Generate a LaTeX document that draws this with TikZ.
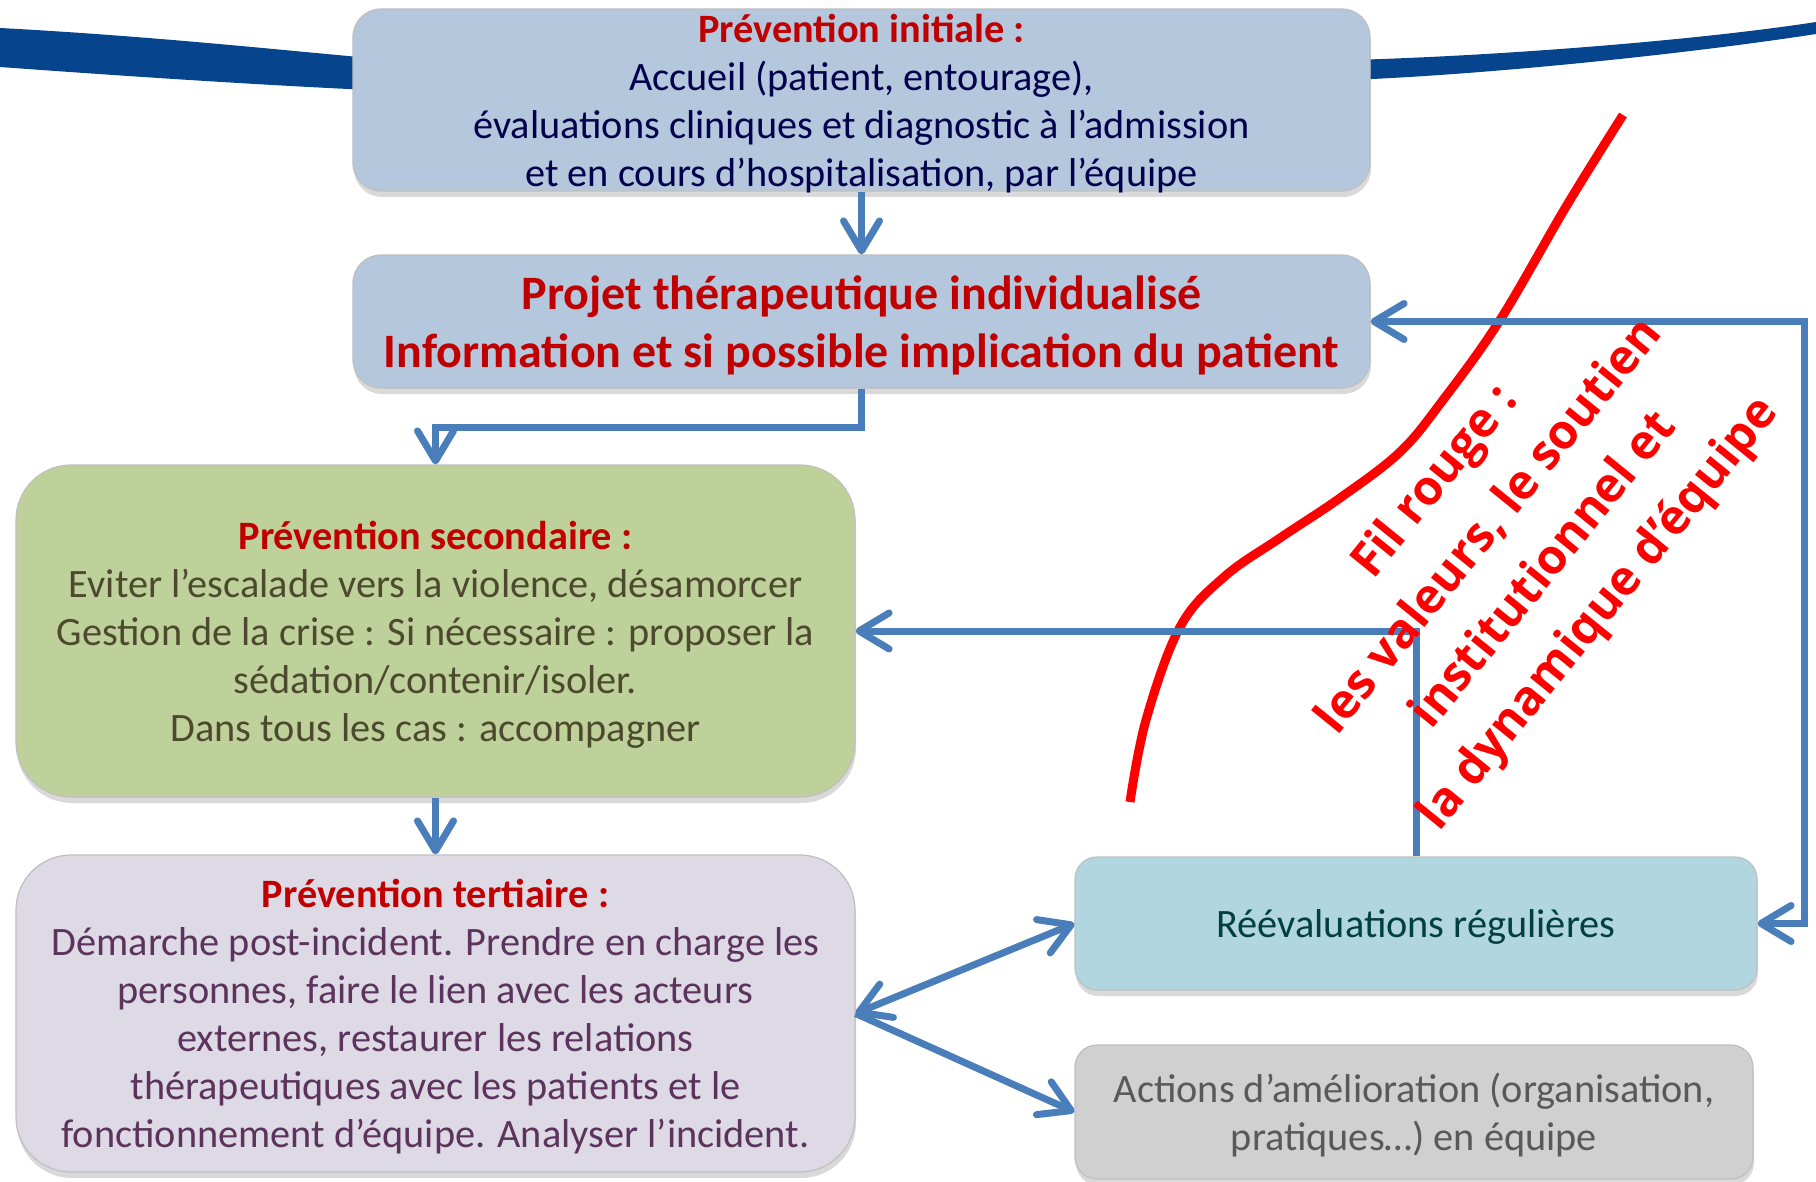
\documentclass[tikz,border=0pt]{standalone}
\usepackage{fontspec}
\setmainfont{Carlito}
\newfontfamily\filfont{Open Sans}
\usetikzlibrary{positioning,arrows.meta,shadows}
\definecolor{bleuboite}{HTML}{B4C7DC}
\definecolor{vertboite}{HTML}{BFD19A}
\definecolor{mauveboite}{HTML}{DDD9E5}
\definecolor{turquoiseboite}{HTML}{B2D6DF}
\definecolor{grisboite}{HTML}{D0D0D0}
\definecolor{titre}{HTML}{C00000}
\definecolor{bleufleche}{HTML}{4A7EBB}
\definecolor{bandeau}{HTML}{06458E}

\begin{document}
\begin{tikzpicture}[x=1pt,y=-1pt,
	boite/.style={rounded corners=28pt, draw=black!25, line width=1.2pt, inner sep=0pt, align=center, text depth=0pt,
		font=\fontsize{40.3}{48}\selectfont, drop shadow={shadow xshift=1pt, shadow yshift=-6pt, opacity=0.3}},
	lien/.style={draw=bleufleche, line width=7pt, -{Straight Barb[length=30pt,width=36pt,round]}},
	titrebox/.style={text=titre}]
	\useasboundingbox (0,0) rectangle (1816,1182);
	\fill[bandeau] (0,28) .. controls (150,36) and (280,50) .. (370,58) -- (370,90) .. controls (280,86) and (150,78) .. (0,67) -- cycle;
	\fill[bandeau] (1350,60) .. controls (1500,56) and (1700,40) .. (1816,22) -- (1816,34) .. controls (1700,52) and (1500,74) .. (1350,80) -- cycle;
	\node[boite, fill=bleuboite, text=blue!30!black, minimum width=1017pt, minimum height=182pt] (initiale) at (861.5,100)
		{{\bfseries\color{titre}Prévention initiale :}\\Accueil (patient, entourage),\\évaluations cliniques et diagnostic à l’admission\\et en cours d’hospitalisation, par l’équipe};
	\node[boite, fill=bleuboite, text=titre, font=\bfseries\fontsize{48}{58}\selectfont, minimum width=1017pt, minimum height=133pt] (projet) at (861.5,321.5)
		{Projet thérapeutique individualisé\\Information et si possible implication du patient};
	\node[boite, rounded corners=55pt, fill=vertboite, text=olive!40!black, minimum width=839pt, minimum height=332pt] (secondaire) at (435.5,631)
		{{\bfseries\color{titre}Prévention secondaire :}\\Eviter l’escalade vers la violence, désamorcer\\Gestion de la crise : Si nécessaire : proposer la\\sédation/contenir/isoler.\\Dans tous les cas : accompagner};
	\node[boite, rounded corners=55pt, fill=mauveboite, text=violet!40!black!80, minimum width=839pt, minimum height=317pt] (tertiaire) at (435.5,1013.5)
		{{\bfseries\color{titre}Prévention tertiaire :}\\Démarche post-incident. Prendre en charge les\\personnes, faire le lien avec les acteurs\\externes, restaurer les relations\\thérapeutiques avec les patients et le\\fonctionnement d’équipe. Analyser l’incident.};
	\node[boite, rounded corners=22pt, fill=turquoiseboite, text=teal!50!black, minimum width=682pt, minimum height=133pt] (reeval) at (1416,923.5)
		{Réévaluations régulières};
	\node[boite, rounded corners=22pt, fill=grisboite, text=black!65, minimum width=678pt, minimum height=134pt] (actions) at (1414,1112)
		{Actions d’amélioration (organisation,\\pratiques…) en équipe};
	\draw[red, line width=9pt] plot[smooth, tension=0.6] coordinates {(1130,802) (1146,720) (1180,627) (1224,577) (1280,538) (1340,498) (1400,452) (1443,400) (1500,320) (1567,205) (1623,115)};
	\draw[lien] (initiale) -- (projet);
	\draw[lien] (projet.south) -- ++(0,39) -| (secondaire.north);
	\draw[lien] (secondaire) -- (tertiaire);
	\draw[lien] (reeval.north) |- (secondaire.east);
	\draw[lien, {Straight Barb[length=30pt,width=36pt,round]}-{Straight Barb[length=30pt,width=36pt,round]}] (reeval.east) -- ++(47,0) |- (projet.east);
	\draw[lien, {Straight Barb[length=30pt,width=36pt,round]}-{Straight Barb[length=30pt,width=36pt,round]}] (tertiaire.east) -- (reeval.west);
	\draw[lien] (tertiaire.east) -- (actions.west);
	\node[rotate=51, text=red, align=center, font=\filfont\bfseries\fontsize{48}{70}\selectfont] (filrouge) at (1518,549)
		{Fil rouge :\\les valeurs, le soutien\\institutionnel et\\la dynamique d’équipe};
\end{tikzpicture}
\end{document}
